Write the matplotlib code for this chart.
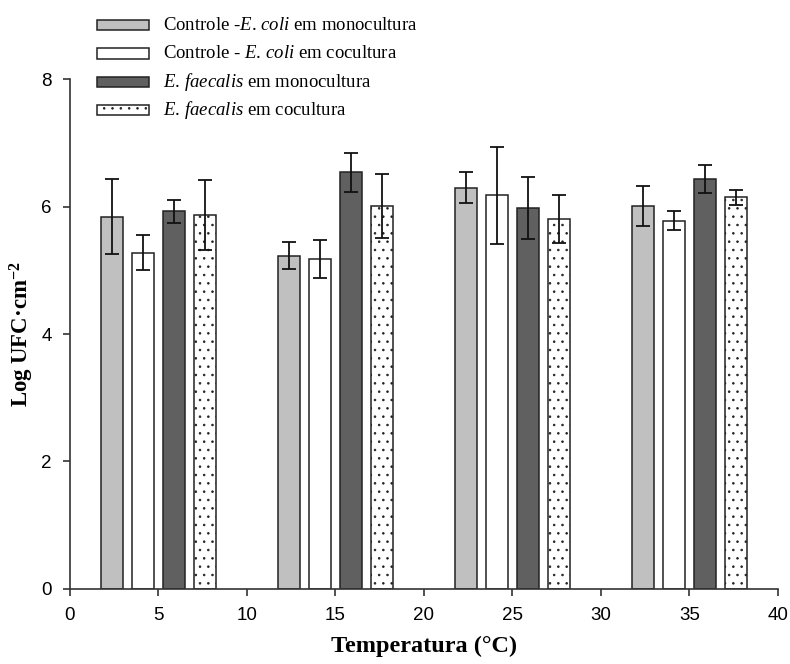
import numpy as np
import matplotlib
matplotlib.use("Agg")
import matplotlib.pyplot as plt

plt.rcParams['mathtext.fontset'] = 'custom'
plt.rcParams['mathtext.rm'] = 'Liberation Serif'
plt.rcParams['mathtext.it'] = 'Liberation Serif:italic'
plt.rcParams['mathtext.bf'] = 'Liberation Serif:bold'
plt.rcParams['hatch.linewidth'] = 0.6
plt.rcParams['hatch.color'] = '#555555'

temps = np.array([5, 15, 25, 35])

ecoli_mono = [5.84, 5.23, 6.30, 6.01]
ecoli_mono_err = [0.59, 0.21, 0.24, 0.32]
ecoli_co = [5.28, 5.18, 6.18, 5.78]
ecoli_co_err = [0.28, 0.30, 0.76, 0.15]
faec_mono = [5.93, 6.54, 5.98, 6.44]
faec_mono_err = [0.18, 0.31, 0.49, 0.22]
faec_co = [5.87, 6.01, 5.81, 6.15]
faec_co_err = [0.55, 0.50, 0.38, 0.12]

labels = [r'Controle -$\mathit{E.\,coli}$ em monocultura',
          r'Controle - $\mathit{E.\,coli}$ em cocultura',
          r'$\mathit{E.\,faecalis}$ em monocultura',
          r'$\mathit{E.\,faecalis}$ em cocultura']

series = [(ecoli_mono, ecoli_mono_err, '#c0c0c0', None),
          (ecoli_co, ecoli_co_err, 'white', None),
          (faec_mono, faec_mono_err, '#606060', None),
          (faec_co, faec_co_err, 'white', '..')]
offsets = [-2.63, -0.88, 0.88, 2.63]
width = 1.23

fig = plt.figure(figsize=(7.9, 6.64), dpi=100)
ax = fig.add_axes([0.0886, 0.1134, 0.8962, 0.767])

handles = []
for (vals, errs, col, hatch), off in zip(series, offsets):
    b = ax.bar(temps + off, vals, width, color=col, edgecolor='#222222',
               linewidth=1.1, hatch=hatch, zorder=2)
    ax.errorbar(temps + off, vals, yerr=errs, fmt='none', ecolor='#111111',
                elinewidth=1.3, capsize=5, capthick=1.3, zorder=3)
    handles.append(b)

ax.set_xlim(0, 40)
ax.set_ylim(0, 8)
ax.set_xticks(np.arange(0, 41, 5))
ax.set_yticks(np.arange(0, 9, 2))
for s in ['top', 'right']:
    ax.spines[s].set_visible(False)
for s in ['left', 'bottom']:
    ax.spines[s].set_linewidth(1.2)
    ax.spines[s].set_color('#333333')
ax.tick_params(direction='out', length=5, width=1.2, labelsize=13.5, pad=8,
               colors='#333333', labelcolor='black')
for t in ax.get_xticklabels() + ax.get_yticklabels():
    t.set_fontfamily('Liberation Sans')

ax.set_xlabel('Temperatura (°C)', fontsize=17.5, fontweight='bold',
              fontfamily='Liberation Serif', labelpad=9)
ax.set_ylabel(r'Log UFC·cm$^{\mathbf{-2}}$', fontsize=16.5, fontweight='bold',
              fontfamily='Liberation Serif', labelpad=4)

# legend boxes, text placed next to them so the rows stay evenly spaced
leg = fig.legend(handles=handles, labels=[' '] * 4, loc='upper left',
                 bbox_to_anchor=(0.1137, 0.983), frameon=False,
                 prop={'family': 'Liberation Serif', 'size': 13},
                 handlelength=2.88, handleheight=0.5, labelspacing=0.63,
                 handletextpad=0.0, borderaxespad=0.0)
fig.canvas.draw()
inv = fig.transFigure.inverted()
for h, lab in zip(leg.legend_handles, labels):
    bb = h.get_window_extent()
    x0, y0 = inv.transform((bb.x1 + 14, (bb.y0 + bb.y1) / 2 - 5))
    fig.text(x0, y0, lab, fontsize=13.5, fontfamily='Liberation Serif',
             va='baseline', ha='left')

fig.savefig('out.png', dpi=100)
